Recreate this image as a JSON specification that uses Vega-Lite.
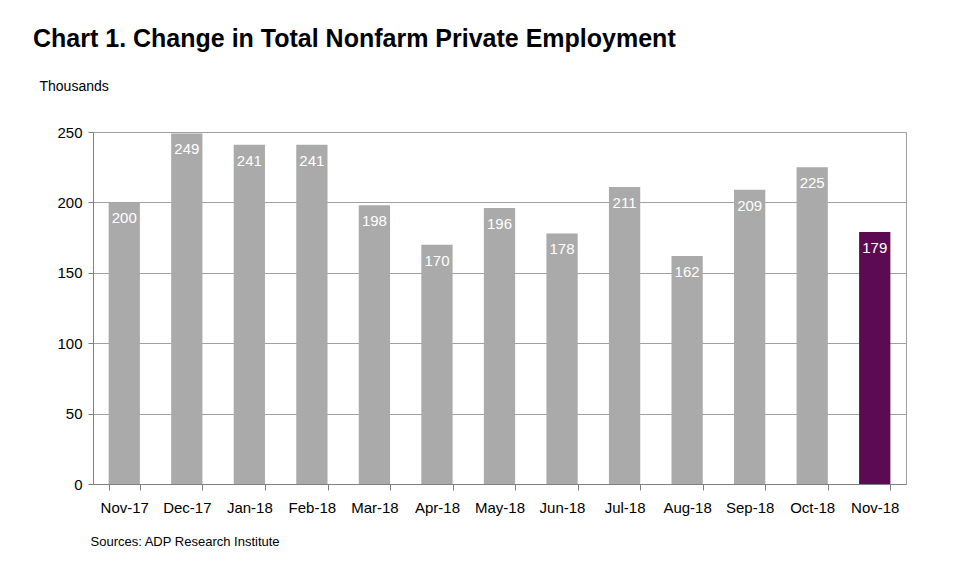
{
  "$schema": "https://vega.github.io/schema/vega-lite/v6.json",
  "width": 813,
  "height": 352,
  "autosize": {"type": "none"},
  "padding": {"left": 93, "top": 132, "right": 54, "bottom": 79},
  "background": "white",
  "title": {
    "text": "Chart 1. Change in Total Nonfarm Private Employment",
    "anchor": "start",
    "frame": "group",
    "dx": -60,
    "offset": 27,
    "font": "Liberation Sans",
    "fontSize": 25,
    "fontWeight": "bold",
    "color": "#000000"
  },
  "config": {
    "view": {"stroke": "#a0a0a0", "strokeWidth": 1},
    "font": "Liberation Sans"
  },
  "data": {
    "values": [
      {"month": "Nov-17", "value": 200, "latest": "no"},
      {"month": "Dec-17", "value": 249, "latest": "no"},
      {"month": "Jan-18", "value": 241, "latest": "no"},
      {"month": "Feb-18", "value": 241, "latest": "no"},
      {"month": "Mar-18", "value": 198, "latest": "no"},
      {"month": "Apr-18", "value": 170, "latest": "no"},
      {"month": "May-18", "value": 196, "latest": "no"},
      {"month": "Jun-18", "value": 178, "latest": "no"},
      {"month": "Jul-18", "value": 211, "latest": "no"},
      {"month": "Aug-18", "value": 162, "latest": "no"},
      {"month": "Sep-18", "value": 209, "latest": "no"},
      {"month": "Oct-18", "value": 225, "latest": "no"},
      {"month": "Nov-18", "value": 179, "latest": "yes"}
    ]
  },
  "encoding": {
    "x": {
      "field": "month",
      "type": "nominal",
      "sort": null,
      "scale": {"paddingInner": 0.5, "paddingOuter": 0.25},
      "axis": {
        "title": "Sources: ADP Research Institute",
        "titleFont": "Liberation Sans",
        "titleFontSize": 13,
        "titleFontWeight": "normal",
        "titleColor": "#000000",
        "titleAnchor": "start",
        "titleAlign": "left",
        "titleX": -3,
        "titleY": 57,
        "titleBaseline": "middle",
        "labelAngle": 0,
        "labelFontSize": 15,
        "labelColor": "#000000",
        "labelPadding": 10,
        "tickBand": "extent",
        "tickSize": 6,
        "tickColor": "#808080",
        "domainColor": "#808080"
      }
    },
    "y": {
      "field": "value",
      "type": "quantitative",
      "scale": {"domain": [0, 250]},
      "axis": {
        "values": [0, 50, 100, 150, 200, 250],
        "title": "Thousands",
        "titleAngle": 0,
        "titleFont": "Liberation Sans",
        "titleFontSize": 14,
        "titleFontWeight": "normal",
        "titleColor": "#000000",
        "titleAlign": "left",
        "titleBaseline": "middle",
        "titleX": -54,
        "titleY": -46,
        "labelFontSize": 15,
        "labelColor": "#000000",
        "labelPadding": 6,
        "tickSize": 5,
        "tickColor": "#808080",
        "domainColor": "#808080",
        "gridColor": "#a0a0a0",
        "gridOpacity": 1
      }
    }
  },
  "layer": [
    {
      "mark": {"type": "bar"},
      "encoding": {
        "color": {
          "field": "latest",
          "type": "nominal",
          "scale": {"domain": ["no", "yes"], "range": ["#aaaaaa", "#5c0a52"]},
          "legend": null
        }
      }
    },
    {
      "mark": {"type": "text", "baseline": "alphabetic", "dy": 21, "fontSize": 15, "color": "#ffffff", "font": "Liberation Sans"},
      "encoding": {"text": {"field": "value", "type": "quantitative"}}
    }
  ]
}
